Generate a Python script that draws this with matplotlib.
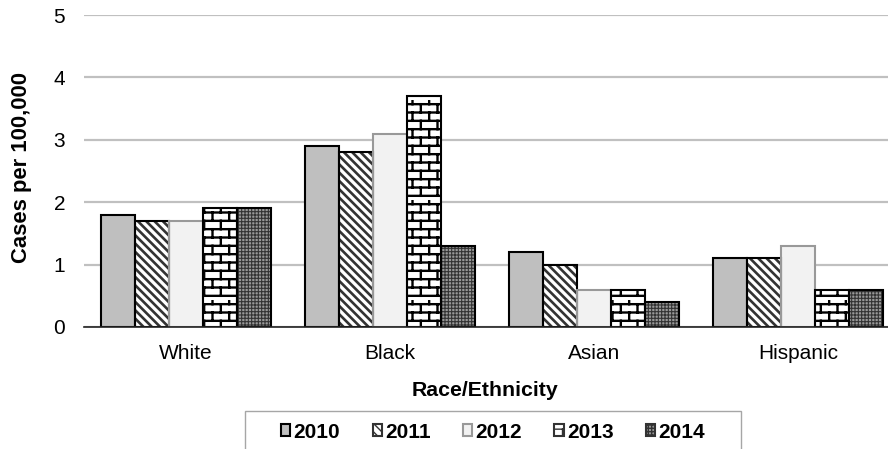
import numpy as np
import matplotlib
matplotlib.use("Agg")
import matplotlib.pyplot as plt
import matplotlib.hatch as mhatch
import matplotlib.patches as mpatches
from matplotlib.path import Path

categories = ["White", "Black", "Asian", "Hispanic"]
years = ["2010", "2011", "2012", "2013", "2014"]
rates_2010 = [1.8, 2.9, 1.2, 1.1]
rates_2011 = [1.7, 2.8, 1.0, 1.1]
rates_2012 = [1.7, 3.1, 0.6, 1.3]
rates_2013 = [1.9, 3.7, 0.6, 0.6]
rates_2014 = [1.9, 1.3, 0.4, 0.6]
series = [rates_2010, rates_2011, rates_2012, rates_2013, rates_2014]


class BrickHatch(mhatch.HatchPatternBase):
    """Brick-wall hatch, used in place of the large-circle 'O' hatch."""

    def __init__(self, hatch, density):
        self.rows = int(hatch.count('O') * density)
        self.cols = max(self.rows // 2, 1)
        self.num_vertices = self.rows * 2 + self.rows * self.cols * 2

    def set_vertices_and_codes(self, vertices, codes):
        h = 1.0 / self.rows
        pts = []
        for i in range(self.rows):
            y = (i + 0.5) * h
            pts += [(0.0, y), (1.0, y)]
            shift = 0.5 if i % 2 else 0.0
            for k in range(self.cols):
                x = (k + shift + 0.25) / self.cols
                pts += [(x, y), (x, y + h)]
        vertices[:] = pts
        codes[0::2] = Path.MOVETO
        codes[1::2] = Path.LINETO


mhatch._hatch_types = [t for t in mhatch._hatch_types
                       if t is not mhatch.LargeCircles] + [BrickHatch]

FONT = ['Liberation Sans', 'DejaVu Sans']
plt.rcParams['font.family'] = FONT

BSL = chr(92)
# (face colour, hatch, hatch colour, outline colour, hatch width)
styles = [
    ('#bfbfbf', None, '#bfbfbf', 'black', 1.0),
    ('white', BSL * 4, '#333333', 'black', 1.9),
    ('#f2f2f2', None, '#f2f2f2', '#999999', 1.0),
    ('white', 'OO', 'black', 'black', 1.7),
    ('#999999', '+' * 5, '#333333', 'black', 0.8),
]

fig = plt.figure(figsize=(8.88, 4.49), dpi=100)
W, H = 888, 449
ax = fig.add_axes([84 / W, (H - 327) / H, 816 / W, 312 / H])

x = np.arange(len(categories))
bw = 1 / 6
for j, vals in enumerate(series):
    face, hatch, hcol, edge, hlw = styles[j]
    pos = x + (j - 2) * bw
    with plt.rc_context({'hatch.linewidth': hlw}):
        bars = ax.bar(pos, vals, bw, color=face, hatch=hatch, edgecolor=hcol,
                      linewidth=0, zorder=2)
        for b in bars:
            if hasattr(b, 'set_hatch_linewidth'):
                b.set_hatch_linewidth(hlw)
    ax.bar(pos, vals, bw, facecolor='none', edgecolor=edge,
           linewidth=1.5, zorder=3)

ax.set_xlim(-0.5, len(categories) - 0.5)
ax.set_ylim(0, 5)
ax.set_yticks(range(6))
ax.set_xticks(x)
ax.set_xticklabels(categories)
ax.tick_params(axis='both', length=0, labelsize=15, colors='black')
ax.tick_params(axis='y', pad=13.5)
ax.tick_params(axis='x', pad=12)
ax.grid(axis='y', color='#c0c0c0', linewidth=1.6)
ax.set_axisbelow(True)
for s in ['top', 'right', 'left']:
    ax.spines[s].set_visible(False)
ax.spines['bottom'].set_color('#222222')
ax.spines['bottom'].set_linewidth(1.2)
ax.spines['bottom'].set_zorder(4)

ax.set_ylabel('Cases per 100,000', fontsize=15.8, fontweight='bold',
              family=FONT)
ax.yaxis.label.set_va('center')
ax.yaxis.set_label_coords((22 - 84) / 816, (327 - 167) / 312)
ax.set_xlabel('Race/Ethnicity', fontsize=15.3, fontweight='bold',
              family=FONT)
ax.xaxis.label.set_va('center')
ax.xaxis.set_label_coords((485 - 84) / 816, (327 - 390) / 312)

handles = []
for face, hatch, hcol, edge, hlw in styles:
    handles.append(mpatches.Patch(facecolor=face, hatch=hatch,
                                  edgecolor='#333333' if hatch else edge,
                                  linewidth=1.5))
leg = fig.legend(handles, years, loc='center', ncol=5, frameon=False,
                 bbox_to_anchor=(493 / W, 1 - 432 / H),
                 prop={'size': 15, 'weight': 'bold', 'family': FONT},
                 handlelength=0.45, handleheight=0.45, handletextpad=0.15,
                 columnspacing=1.55, borderpad=0.3)

fig.canvas.draw()
bb = leg.get_window_extent()
pad_x, pad_y = 30, 5
fig.patches.append(mpatches.Rectangle(
    ((bb.x0 - pad_x) / W, (bb.y0 - pad_y) / H),
    (bb.width + 2 * pad_x) / W, (bb.height + 2 * pad_y) / H,
    transform=fig.transFigure, fill=False, edgecolor='#a6a6a6',
    linewidth=1.0))

fig.savefig('out.png', dpi=100)
